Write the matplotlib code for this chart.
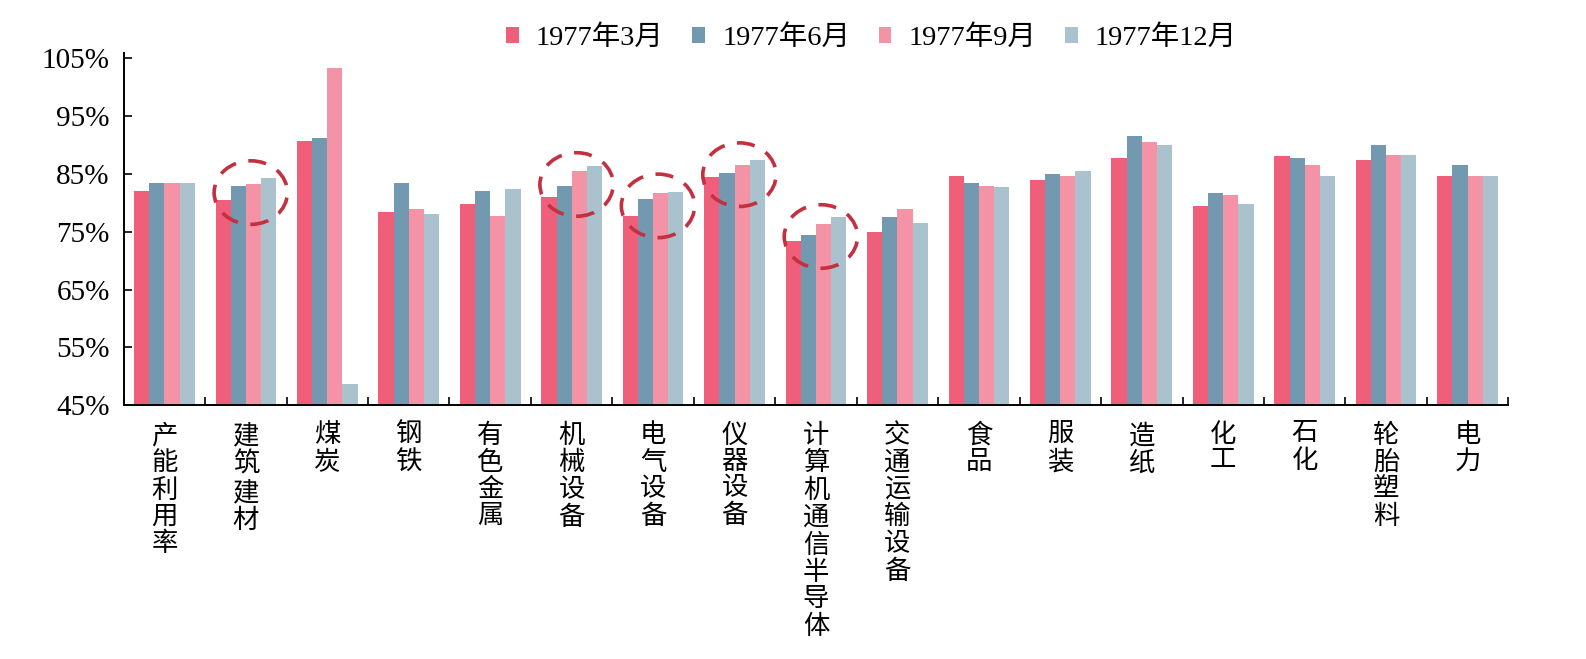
import numpy as np
import matplotlib
matplotlib.use("Agg")
import matplotlib.pyplot as plt
from matplotlib.patches import Ellipse

plt.rcParams['font.family'] = ['Liberation Serif', 'Noto Sans CJK SC', 'DejaVu Sans']

# data (%)
categories = ["产能利用率", "建筑建材", "煤炭", "钢铁", "有色金属", "机械设备", "电气设备",
              "仪器设备", "计算机通信半导体", "交通运输设备", "食品", "服装", "造纸",
              "化工", "石化", "轮胎塑料", "电力"]
series_names = ["1977年3月", "1977年6月", "1977年9月", "1977年12月"]
mar = [82.1, 80.6, 90.7, 78.4, 79.8, 81.0, 77.8, 84.5, 73.5, 74.9, 84.7, 83.9, 87.8, 79.5, 88.1, 87.5, 84.6]
jun = [83.5, 82.9, 91.2, 83.5, 82.1, 82.9, 80.7, 85.2, 74.4, 77.5, 83.4, 85.0, 91.6, 81.8, 87.8, 90.0, 86.6]
sep = [83.5, 83.3, 103.4, 78.9, 77.8, 85.5, 81.8, 86.6, 76.3, 79.0, 82.9, 84.7, 90.6, 81.4, 86.6, 88.3, 84.7]
dec = [83.4, 84.3, 48.7, 78.1, 82.4, 86.4, 81.9, 87.5, 77.5, 76.5, 82.7, 85.5, 90.0, 79.8, 84.6, 88.3, 84.7]
yticks = [45, 55, 65, 75, 85, 95, 105]

# highlighted groups: (category index, centre value)
circled = [(1, 81.8), (5, 83.2), (6, 79.5), (7, 84.9), (8, 74.2)]

colors = ["#EF5F79", "#7399B0", "#F492A6", "#A9C2CE"]

fig = plt.figure(figsize=(15.86, 6.59), dpi=100)
ax = fig.add_axes([0.078, 0.385, 0.873, 0.535])

x = np.arange(len(categories))
w = 0.186
for i, (vals, col, name) in enumerate(zip([mar, jun, sep, dec], colors, series_names)):
    ax.bar(x + (i - 1.5) * w, np.array(vals) - 45, bottom=45, width=w,
           color=col, label=name, linewidth=0)

for ci, cy in circled:
    e = Ellipse((ci + 0.06, cy), 0.9, 11.0, fill=False, edgecolor="#C3303F",
                linewidth=2.6, linestyle=(0, (5, 3.5)), zorder=5)
    ax.add_patch(e)

ax.set_xlim(-0.5, len(categories) - 0.5)
ax.set_ylim(45, 106)
ax.set_yticks(yticks)
ax.set_yticklabels([f"{v}%" for v in yticks], fontsize=21)
ax.tick_params(axis="y", direction="in", length=6, width=1.2, pad=10)

ax.set_xticks(x)
ax.set_xticklabels(["\n".join(c) for c in categories], fontsize=19,
                   linespacing=1.18, va="top")
ax.tick_params(axis="x", length=0, pad=13)
ax.set_xticks(np.arange(-0.5, len(categories), 1.0), minor=True)
ax.tick_params(axis="x", which="minor", direction="in", length=6, width=1.2)

for s in ["top", "right"]:
    ax.spines[s].set_visible(False)
ax.spines["left"].set_linewidth(1.4)
ax.spines["bottom"].set_linewidth(1.4)

ax.legend(loc="upper center", bbox_to_anchor=(0.54, 1.15), ncol=4, frameon=False,
          fontsize=20.5, handlelength=0.45, handleheight=0.45, handletextpad=0.6,
          columnspacing=1.0)

fig.savefig("out.png", dpi=100)
